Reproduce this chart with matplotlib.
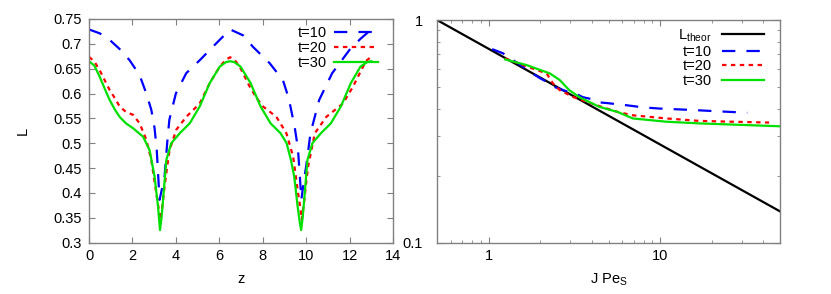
import matplotlib
matplotlib.use("Agg")
import matplotlib.pyplot as plt
from matplotlib.ticker import LogLocator, NullFormatter, FixedLocator, FixedFormatter, MultipleLocator

plt.rcParams['font.family'] = ['Liberation Sans', 'DejaVu Sans']
plt.rcParams['mathtext.fontset'] = 'custom'
plt.rcParams['mathtext.rm'] = 'Liberation Sans'

# ---------------- left panel data ----------------
z_t10 = [0.0, 0.5, 0.95, 1.4, 1.87, 2.33, 2.64, 2.87, 3.02, 3.12, 3.25, 3.37, 3.48, 3.6, 3.7, 4.0, 4.48,
         5.1, 5.86, 6.5, 7.1, 7.55, 8.32, 8.93, 9.2, 9.47, 9.62, 9.7, 9.78, 9.88, 10.0, 10.2, 10.6, 11.2,
         12.0, 12.5, 13.0]
L_t10 = [0.729, 0.721, 0.708, 0.690, 0.667, 0.637, 0.600, 0.567, 0.530, 0.486, 0.386, 0.410, 0.433, 0.500,
         0.547, 0.600, 0.641, 0.667, 0.701, 0.729, 0.717, 0.694, 0.661, 0.627, 0.590, 0.533, 0.490, 0.440,
         0.386, 0.420, 0.453, 0.520, 0.587, 0.641, 0.688, 0.710, 0.729]

z_t20 = [0.0, 0.25, 0.49, 0.72, 0.95, 1.2, 1.41, 1.7, 2.03, 2.33, 2.64, 2.87, 3.1, 3.2, 3.28, 3.37, 3.48,
         3.6, 3.71, 4.02, 4.48, 5.1, 5.56, 6.02, 6.3, 6.5, 6.7, 6.94, 7.4, 7.7, 8.01, 8.63, 9.09, 9.4,
         9.63, 9.73, 9.8, 9.9, 10.0, 10.09, 10.4, 10.93, 11.7, 12.16, 12.62, 12.8, 13.0]
L_t20 = [0.674, 0.664, 0.647, 0.627, 0.607, 0.590, 0.574, 0.563, 0.557, 0.540, 0.507, 0.466, 0.399, 0.370,
         0.346, 0.370, 0.413, 0.453, 0.486, 0.527, 0.553, 0.580, 0.621, 0.654, 0.668, 0.673, 0.668, 0.654,
         0.614, 0.592, 0.574, 0.553, 0.520, 0.473, 0.399, 0.370, 0.346, 0.380, 0.420, 0.453, 0.520, 0.553,
         0.580, 0.614, 0.654, 0.667, 0.674]

z_t30 = [0.0, 0.25, 0.49, 0.72, 0.95, 1.2, 1.41, 1.7, 2.03, 2.49, 2.79, 3.02, 3.18, 3.27, 3.34, 3.41,
         3.56, 3.79, 4.18, 4.64, 5.1, 5.56, 6.02, 6.3, 6.5, 6.7, 6.98, 7.44, 7.9, 8.36, 8.82, 9.1, 9.3,
         9.45, 9.61, 9.71, 9.77, 9.84, 9.91, 10.06, 10.29, 10.68, 11.14, 11.6, 12.06, 12.5, 12.8, 13.0]
L_t30 = [0.665, 0.656, 0.634, 0.610, 0.587, 0.567, 0.553, 0.540, 0.530, 0.513, 0.486, 0.433, 0.372, 0.325,
         0.350, 0.386, 0.466, 0.500, 0.520, 0.540, 0.574, 0.621, 0.654, 0.663, 0.665, 0.663, 0.654, 0.621,
         0.574, 0.540, 0.520, 0.500, 0.466, 0.433, 0.372, 0.340, 0.325, 0.350, 0.386, 0.466, 0.500, 0.520,
         0.540, 0.574, 0.621, 0.654, 0.663, 0.665]

# ---------------- right panel data ----------------
x_theor = [0.5, 50.0]
L_theor = [1.0, 0.138]

x_r10 = [1.048, 1.214, 1.63, 1.79, 1.99, 2.19, 2.44, 2.71, 3.27, 3.54, 3.99, 4.32, 4.94, 5.66,
         6.36, 7.92, 9.9, 15.5, 21.3, 32.2]
L_r10 = [0.740, 0.708, 0.608, 0.577, 0.548, 0.526, 0.499, 0.484, 0.464, 0.450, 0.441, 0.427, 0.423, 0.418,
         0.414, 0.405, 0.400, 0.394, 0.389, 0.383]

x_r20 = [1.247, 1.587, 2.18, 2.37, 2.60, 3.10, 4.26, 5.66, 6.93, 10.9, 16.9, 26.0, 43.2]
L_r20 = [0.672, 0.627, 0.575, 0.519, 0.484, 0.451, 0.414, 0.386, 0.373, 0.361, 0.352, 0.349, 0.346]

x_r30 = [1.247, 1.668, 2.277, 2.60, 2.95, 3.40, 4.42, 5.66, 6.93, 10.9, 16.9, 26.0, 49.5]
L_r30 = [0.665, 0.627, 0.575, 0.537, 0.484, 0.449, 0.407, 0.386, 0.361, 0.349, 0.343, 0.339, 0.333]

legend_labels = ['t=10', 't=20', 't=30']
theor_label = r'L$_{\rm theor}$'

BLUE = '#0000ff'
RED = '#ff0000'
GREEN = '#00e000'
SPINE = '#808080'
FS = 10.5

fig = plt.figure(figsize=(8.31, 2.94), dpi=100)
ax1 = fig.add_axes([89/831, 1-242.5/294, (393-89)/831, (242.5-19)/294])
ax2 = fig.add_axes([437/831, 1-242.5/294, (780-437)/831, (242.5-20)/294])

lw = 1.6
ax1.plot(z_t10, L_t10, color=BLUE, lw=lw, dashes=(6, 5), label=legend_labels[0])
ax1.plot(z_t20, L_t20, color=RED, lw=lw, dashes=(2, 2), label=legend_labels[1])
ax1.plot(z_t30, L_t30, color=GREEN, lw=lw, label=legend_labels[2])
ax1.set_xlim(0, 14)
ax1.set_ylim(0.3, 0.75)
ax1.xaxis.set_major_locator(MultipleLocator(2))
yt = [0.3, 0.35, 0.4, 0.45, 0.5, 0.55, 0.6, 0.65, 0.7, 0.75]
ax1.yaxis.set_major_locator(FixedLocator(yt))
ax1.yaxis.set_major_formatter(FixedFormatter(['0.3', '0.35', '0.4', '0.45', '0.5', '0.55', '0.6', '0.65', '0.7', '0.75']))
ax1.set_xlabel('z', fontsize=FS, labelpad=6)
ax1.set_ylabel('L', fontsize=FS, labelpad=17)
ax1.legend(loc='upper right', frameon=False, fontsize=FS, handlelength=3.0,
           markerfirst=False, borderaxespad=0.1, labelspacing=0.05, handletextpad=0.5,
           bbox_to_anchor=(0.975, 1.0))

ax2.plot(x_theor, L_theor, color='black', lw=lw, label=theor_label)
ax2.plot(x_r10, L_r10, color=BLUE, lw=lw, dashes=(6, 5), label=legend_labels[0])
ax2.plot(x_r20, L_r20, color=RED, lw=lw, dashes=(2, 2), label=legend_labels[1])
ax2.plot(x_r30, L_r30, color=GREEN, lw=lw, label=legend_labels[2])
ax2.set_xscale('log')
ax2.set_yscale('log')
ax2.set_xlim(0.5, 50)
ax2.set_ylim(0.1, 1.0)
ax2.xaxis.set_major_locator(FixedLocator([1, 10]))
ax2.xaxis.set_major_formatter(FixedFormatter(['1', '10']))
ax2.xaxis.set_minor_locator(LogLocator(base=10, subs=range(2, 10)))
ax2.xaxis.set_minor_formatter(NullFormatter())
ax2.yaxis.set_major_locator(FixedLocator([0.1, 1]))
ax2.yaxis.set_major_formatter(FixedFormatter(['0.1', '1']))
ax2.yaxis.set_minor_locator(LogLocator(base=10, subs=range(2, 10)))
ax2.yaxis.set_minor_formatter(NullFormatter())
ax2.set_xlabel(r'J Pe$_{\rm S}$', fontsize=FS, labelpad=6)
ax2.legend(loc='upper right', frameon=False, fontsize=FS, handlelength=2.9,
           markerfirst=False, borderaxespad=0.1, labelspacing=0.05, handletextpad=0.7,
           bbox_to_anchor=(0.975, 1.0))

for ax in (ax1, ax2):
    for s in ax.spines.values():
        s.set_color(SPINE)
        s.set_linewidth(1.0)
    ax.tick_params(which='both', direction='in', top=True, right=True, color=SPINE,
                   labelsize=FS, pad=5)
    ax.tick_params(which='major', length=4)
    ax.tick_params(which='minor', length=2)
ax2.tick_params(axis='y', which='both', pad=10)

fig.savefig('out.png', dpi=100)
